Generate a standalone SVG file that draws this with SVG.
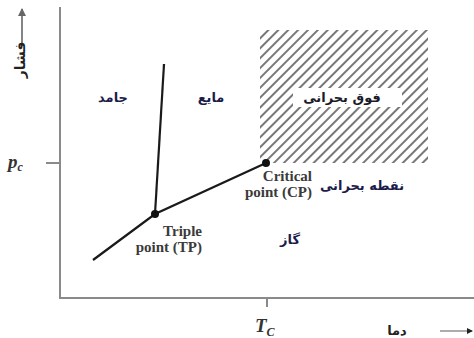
<svg xmlns="http://www.w3.org/2000/svg" width="474" height="338" viewBox="0 0 474 338">
<style>
.ax{stroke:#8a8a8a;stroke-width:2;fill:none}
.ln{stroke:#1a1a1a;stroke-width:2.2;fill:none}
.fa{font-family:"DejaVu Sans",sans-serif;font-size:13px;font-weight:bold;fill:#1c1c4a}
.en{font-family:"Liberation Serif",serif;font-size:15px;font-weight:bold;fill:#3a3a3a}
.it{font-family:"Liberation Serif",serif;font-size:19px;font-style:italic;font-weight:bold;fill:#333}
</style>
<defs>
<pattern id="hatch" width="7" height="7" patternUnits="userSpaceOnUse" patternTransform="rotate(45)">
<line x1="1" y1="0" x2="1" y2="7" stroke="#4a4a4a" stroke-width="1.5"/>
</pattern>
<marker id="ah" markerWidth="6" markerHeight="6" refX="5" refY="3" orient="auto" markerUnits="userSpaceOnUse">
<path d="M0,0 L6,3 L0,6 z" fill="#222"/>
</marker>
<marker id="av" markerWidth="8" markerHeight="8" refX="7" refY="4" orient="auto" markerUnits="userSpaceOnUse">
<path d="M0,0 L8,4 L0,8 z" fill="#666"/>
</marker>
</defs>
<rect width="474" height="338" fill="#fff"/>
<g id="axes">
<line class="ax" x1="60" y1="7" x2="60" y2="298"/>
<line class="ax" x1="59" y1="298" x2="474" y2="298"/>
<line class="ax" x1="46" y1="163" x2="60" y2="163"/>
<line class="ax" x1="267" y1="298" x2="267" y2="307"/>
<line x1="22" y1="44" x2="22" y2="9" stroke="#777" stroke-width="1.8" marker-end="url(#av)"/>
<line x1="440" y1="331" x2="472" y2="331" stroke="#777" stroke-width="1.2" marker-end="url(#ah)"/>
<text class="fa" transform="translate(25,60) rotate(-90)" text-anchor="middle" style="font-size:14px;fill:#222">فشار</text>
<text class="it" x="8" y="168">p<tspan font-size="12" dy="3">c</tspan></text>
<text class="it" x="255" y="332">T<tspan font-size="12" dy="4">C</tspan></text>
<text class="fa" x="397" y="335" text-anchor="middle" style="fill:#222">دما</text>
</g>
<g id="supercritical">
<rect x="260" y="30" width="168" height="133" fill="url(#hatch)"/>
<rect x="293" y="88" width="109" height="19" fill="#fff"/>
<text class="fa" x="342" y="102" text-anchor="middle" style="fill:#1a1a2a">فوق بحرانی</text>
</g>
<g id="connectors">
<polyline class="ln" points="93,260 155,214 266,163"/>
<line class="ln" x1="155" y1="214" x2="164" y2="64"/>
</g>
<g id="triple-point">
<circle cx="155" cy="214" r="4" fill="#111"/>
<text class="en" x="202" y="236" text-anchor="end">Triple</text>
<text class="en" x="202" y="252" text-anchor="end">point (TP)</text>
</g>
<g id="critical-point">
<circle cx="266" cy="163" r="4" fill="#111"/>
<text class="en" x="312" y="181" text-anchor="end">Critical</text>
<text class="en" x="312" y="197" text-anchor="end">point (CP)</text>
<text class="fa" x="362" y="190" text-anchor="middle">نقطه بحرانی</text>
</g>
<g id="solid"><text class="fa" x="113" y="102" text-anchor="middle">جامد</text></g>
<g id="liquid"><text class="fa" x="211" y="102" text-anchor="middle">مایع</text></g>
<g id="gas"><text class="fa" x="290" y="244" text-anchor="middle">گاز</text></g>
</svg>
